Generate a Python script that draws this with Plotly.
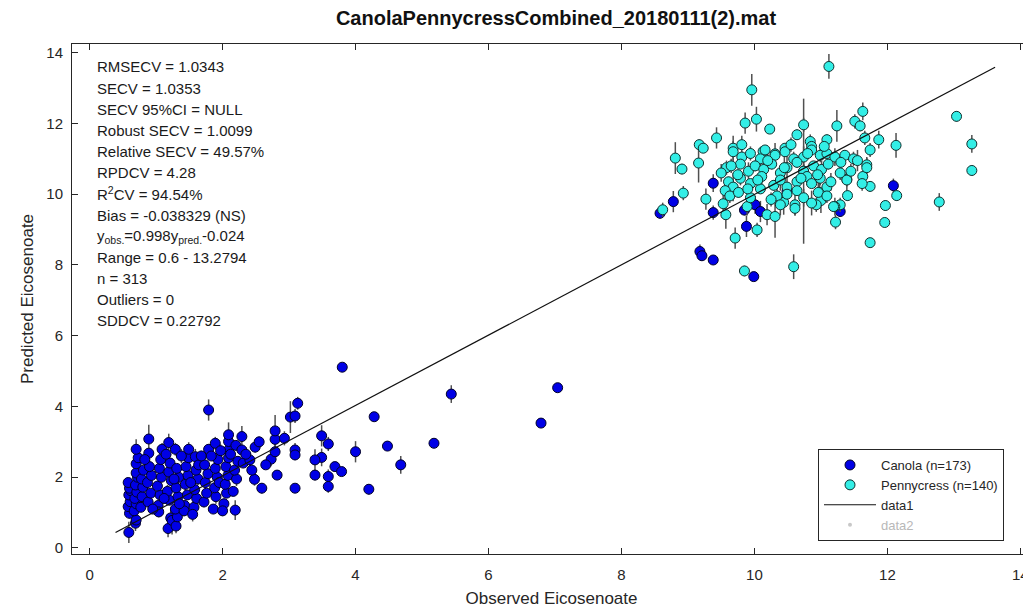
import plotly.graph_objects as go

# ---------------- data ----------------
canola_obs = [
    0.59, 0.60, 0.58, 0.61, 0.59, 0.62, 0.60, 0.58,
    0.69, 0.70, 0.67, 0.70, 0.68, 0.71, 0.69, 0.72, 0.70, 0.70, 0.73, 0.70,
    0.77, 0.79, 0.80, 0.78, 0.81,
    0.88, 0.92, 0.87, 0.93, 0.90, 0.89, 0.89,
    1.03, 1.06, 1.02, 1.08, 1.05, 1.07, 1.09, 1.04,
    1.18, 1.22, 1.20, 1.17, 1.23, 1.19, 1.21, 1.19, 1.24,
    1.30, 1.32, 1.29, 1.33, 1.30, 1.34, 1.31, 1.29,
    1.43, 1.47, 1.44, 1.48, 1.45, 1.49, 1.49, 1.42,
    1.57, 1.61, 1.58, 1.63, 1.60, 1.59, 1.64,
    1.72, 1.76, 1.74, 1.78, 1.73, 1.79, 1.79,
    1.86, 1.90, 1.88, 1.92, 1.89, 1.93, 1.89, 1.95,
    2.02, 2.06, 2.04, 2.08, 2.05, 2.09, 2.09, 2.09, 2.09,
    2.19, 2.16, 2.21, 2.18, 2.23, 2.20,
    2.29, 2.29, 2.31,
    2.41, 2.49, 2.48, 2.44,
    2.59,
    2.73, 2.79, 2.79, 2.79, 2.93, 2.82,
    3.02, 3.09, 3.13, 3.09, 3.09, 3.09,
    3.49, 3.59, 3.49, 3.39, 3.39, 3.59, 3.59, 3.69, 3.79, 3.80,
    4.00, 4.28, 4.20, 4.48, 4.68, 5.18, 5.44, 6.79, 7.04,
    8.58, 8.78, 9.38, 9.38, 9.18, 9.21, 9.38, 9.88, 9.99, 10.01, 10.09, 10.49, 11.29, 12.09, 9.85,
    0.95, 1.12, 1.27, 1.38, 1.52, 1.68, 1.83, 1.97, 2.12, 2.35, 2.55, 2.65, 1.35, 1.55, 0.83, 1.15, 2.00,
]
canola_pred = [
    0.44, 0.98, 1.17, 1.31, 1.50, 1.62, 1.69, 1.85,
    0.70, 0.79, 1.05, 1.25, 1.40, 1.58, 1.78, 2.00, 2.12, 2.38, 2.55, 2.79,
    1.15, 1.45, 1.72, 1.95, 2.20,
    1.30, 1.55, 1.85, 2.05, 2.30, 2.68, 3.08,
    1.20, 1.50, 1.75, 2.00, 2.25, 2.50, 2.79, 1.02,
    0.55, 0.85, 1.35, 1.60, 1.90, 2.15, 2.40, 2.98, 0.78,
    0.62, 0.88, 1.10, 1.45, 1.70, 2.00, 2.25, 2.79,
    1.20, 1.50, 1.80, 2.05, 2.30, 2.55, 2.79, 1.05,
    1.15, 1.40, 1.65, 1.95, 2.20, 2.58, 2.35,
    1.30, 1.55, 1.85, 2.10, 2.35, 2.79, 3.90,
    1.10, 1.45, 1.70, 2.00, 2.25, 2.50, 2.96, 1.85,
    1.25, 1.55, 1.80, 2.05, 2.30, 2.55, 2.77, 3.01, 3.20,
    1.07, 1.60, 1.95, 2.20, 2.45, 2.90,
    2.77, 3.15, 2.40,
    2.49, 2.85, 1.94, 2.20,
    1.69,
    2.51, 2.72, 3.07, 3.31, 3.10, 2.06,
    3.70, 3.73, 4.09, 2.77, 2.63, 1.69,
    3.17, 2.94, 2.56, 2.49, 2.06, 2.02, 1.74, 2.30, 2.16, 5.11,
    2.72, 3.71, 1.66, 2.88, 2.35, 2.96, 4.35, 3.53, 4.53,
    9.46, 9.79, 10.31, 9.48, 8.38, 8.26, 8.14, 9.09, 7.67, 9.70, 9.51, 10.08, 9.51, 10.24, 9.55,
    1.10, 1.40, 1.95, 2.60, 1.85, 2.60, 2.60, 2.75, 2.65, 2.65, 3.00, 2.35, 1.25, 0.95, 2.50, 2.65, 1.05,
]
canola_sd = [
    0.30, 0.15, 0.20, 0.10, 0.25, 0.12, 0.18, 0.10,
    0.22, 0.10, 0.15, 0.30, 0.12, 0.20, 0.10, 0.25, 0.15, 0.20, 0.12, 0.28,
    0.10, 0.18, 0.12, 0.22, 0.10,
    0.15, 0.10, 0.20, 0.12, 0.18, 0.15, 0.40,
    0.12, 0.20, 0.10, 0.15, 0.22, 0.10, 0.18, 0.15,
    0.25, 0.30, 0.12, 0.18, 0.10, 0.20, 0.15, 0.25, 0.40,
    0.20, 0.15, 0.12, 0.20, 0.10, 0.22, 0.12, 0.18,
    0.15, 0.10, 0.20, 0.12, 0.18, 0.10, 0.20, 0.15,
    0.12, 0.20, 0.10, 0.18, 0.12, 0.22, 0.10,
    0.15, 0.10, 0.20, 0.12, 0.18, 0.15, 0.30,
    0.12, 0.20, 0.10, 0.15, 0.22, 0.10, 0.18, 0.12,
    0.15, 0.10, 0.20, 0.12, 0.18, 0.10, 0.20, 0.15, 0.35,
    0.28, 0.12, 0.20, 0.10, 0.15, 0.12,
    0.15, 0.30, 0.12,
    0.20, 0.15, 0.18, 0.10,
    0.15,
    0.20, 0.15, 0.25, 0.45, 0.20, 0.12,
    0.45, 0.20, 0.18, 0.20, 0.15, 0.12,
    0.30, 0.20, 0.25, 0.30, 0.15, 0.20, 0.18, 0.10, 0.12, 0.10,
    0.30, 0.10, 0.15, 0.10, 0.25, 0.05, 0.25, 0.05, 0.08,
    0.15, 0.30, 0.25, 0.20, 0.20, 0.15, 0.10, 0.30, 0.10, 0.25, 0.30, 0.20, 0.15, 0.20, 0.15,
    0.12, 0.15, 0.10, 0.20, 0.12, 0.15, 0.10, 0.18, 0.12, 0.20, 0.15, 0.10, 0.12, 0.20, 0.15, 0.12, 0.15,
]

penny_obs = [
    11.12, 9.96, 10.03, 9.86, 10.23, 9.43, 9.17, 9.23, 8.81, 8.91, 9.16, 9.68, 9.81, 10.74, 10.64, 10.84,
    10.86, 10.46, 10.13, 10.31, 11.09, 11.24, 11.51, 11.59, 11.63, 11.66, 11.87, 11.74, 12.13, 13.04, 13.27,
    13.27, 12.78, 12.14, 11.97, 11.96, 11.74, 11.74, 11.69, 11.63, 11.39, 11.40, 11.29, 11.21, 11.22, 10.98,
    11.00, 10.93, 10.59, 9.85, 9.71, 10.04, 10.19, 10.31, 10.44, 10.61, 10.74, 9.89, 9.57, 9.53, 9.27, 8.93, 8.62,
    9.68, 9.81, 9.94, 10.09, 10.16, 10.31, 10.46, 10.59, 10.74, 10.86, 10.99, 11.09, 11.21, 11.36, 11.49,
    9.58, 9.79, 9.91, 10.01, 10.14, 10.26, 10.39, 10.49, 10.64, 10.74, 10.89, 11.01, 11.11, 11.29, 11.69,
    9.61, 9.68, 9.79, 9.94, 10.11, 10.29, 10.39, 10.49, 10.64, 10.79, 10.86, 10.99, 11.09, 11.39, 11.62,
    9.56, 9.63, 9.76, 9.94, 10.09, 10.34, 10.49, 10.64, 10.74, 10.96, 11.09,
    10.39, 10.61, 10.86, 11.19,
    9.50, 9.75, 10.20, 10.45, 10.70, 10.95, 11.15, 11.30, 11.45, 10.05, 10.55, 10.80, 9.90, 10.25, 11.05, 11.55, 9.65,
]
penny_pred = [
    13.61, 12.95, 12.12, 12.01, 11.84, 11.59, 11.40, 11.30, 11.02, 10.71, 10.88, 11.30, 11.40, 11.96, 11.68, 11.49,
    11.35, 11.30, 11.21, 11.14, 11.54, 11.93, 12.06, 11.93, 12.34, 11.59, 11.54, 11.25, 11.38, 12.20, 11.42,
    10.67, 9.78, 9.96, 9.68, 9.20, 8.63, 10.22, 10.83, 10.50, 10.42, 9.96, 9.70, 9.65, 9.21, 10.05,
    9.82, 9.70, 7.95, 7.83, 8.76, 8.99, 9.42, 9.37, 9.77, 9.70, 10.65, 9.65, 9.42, 9.73, 9.86, 10.03, 9.56,
    11.20, 11.05, 11.15, 11.00, 11.25, 11.10, 11.20, 11.00, 11.05, 11.25, 11.10, 11.15, 11.05, 11.10, 11.00,
    10.75, 10.85, 10.65, 10.80, 10.70, 10.85, 10.60, 10.75, 10.90, 10.65, 10.80, 10.70, 10.85, 10.60, 10.75,
    10.35, 10.20, 10.45, 10.30, 10.50, 10.25, 10.40, 10.20, 10.35, 10.50, 10.30, 10.45, 10.20, 10.40, 10.30,
    10.10, 9.95, 10.05, 9.90, 10.15, 9.95, 10.00, 10.10, 9.90, 10.05, 9.95,
    9.70, 9.60, 9.75, 9.65,
    10.60, 10.55, 10.95, 10.75, 10.45, 10.55, 10.35, 10.90, 10.65, 10.40, 11.40, 11.15, 10.15, 9.85, 11.35, 10.95, 10.80,
]
penny_sd = [
    0.35, 0.45, 0.35, 0.30, 0.10, 0.30, 0.15, 0.10, 0.45, 0.15, 0.55, 0.35, 0.25, 0.20, 0.15, 0.20,
    0.15, 0.10, 0.10, 0.12, 0.15, 0.45, 0.20, 0.15, 0.25, 0.20, 0.25, 0.20, 0.35, 0.15, 0.25,
    0.15, 0.25, 0.15, 0.15, 0.10, 0.10, 0.15, 0.20, 0.15, 0.20, 0.15, 0.20, 0.25, 0.20, 0.30,
    0.35, 0.20, 0.35, 0.15, 0.30, 0.20, 0.30, 0.60, 0.35, 0.30, 2.05, 0.25, 0.40, 0.35, 0.30, 0.20, 0.20,
    0.30, 0.15, 0.20, 0.25, 0.10, 0.35, 0.15, 0.20, 0.30, 0.15, 0.20, 0.10, 0.25, 0.15, 0.20,
    0.20, 0.10, 0.25, 0.15, 0.30, 0.15, 0.20, 0.35, 0.15, 0.20, 0.10, 0.25, 0.15, 0.20, 0.30,
    0.15, 0.40, 0.20, 0.10, 0.25, 0.15, 0.30, 0.20, 0.15, 0.25, 0.10, 0.20, 0.15, 0.30, 0.20,
    0.35, 0.20, 0.15, 0.25, 0.10, 0.30, 0.20, 0.15, 0.25, 0.40, 0.20,
    0.30, 0.20, 0.35, 0.15,
    0.25, 0.15, 0.20, 0.30, 0.15, 0.20, 0.25, 0.15, 0.20, 0.10, 0.20, 0.15, 0.25, 0.20, 0.15, 0.30, 0.20,
]

fit_x = [0.39, 13.62]
fit_y = [0.44, 13.59]

stats_lines = [
    "RMSECV = 1.0343",
    "SECV = 1.0353",
    "SECV 95%CI = NULL",
    "Robust SECV = 1.0099",
    "Relative SECV = 49.57%",
    "RPDCV = 4.28",
    "R<sup>2</sup>CV = 94.54%",
    "Bias = -0.038329 (NS)",
    "y<sub>obs.</sub>=0.998y<sub>pred.</sub>-0.024",
    "Range = 0.6 - 13.2794",
    "n = 313",
    "Outliers = 0",
    "SDDCV = 0.22792",
]

x_ticks = [0, 2, 4, 6, 8, 10, 12, 14]
y_ticks = [0, 2, 4, 6, 8, 10, 12, 14]

# ---------------- figure ----------------
# the page body has an 8px default margin; the figure is sized/offset to compensate
OFF = 8
W, H = 1031 - OFF, 611 - OFF
ML, MR, MT, MB = 72 - OFF, 0, 44 - OFF, 57
PLOT_BOTTOM = 554   # page pixels
PH = H - MT - MB
PW = W - ML - MR
FONT = "Liberation Sans, Arial, sans-serif"
AXC = "#262626"

fig = go.Figure()
fig.add_trace(go.Scatter(
    x=canola_obs, y=canola_pred, mode="markers", name="Canola (n=173)",
    marker=dict(size=10, color="#0000E6", line=dict(color="#000028", width=1)),
    error_y=dict(type="data", array=canola_sd, visible=True, color="#505050", thickness=1.5, width=0),
))
fig.add_trace(go.Scatter(
    x=penny_obs, y=penny_pred, mode="markers", name="Pennycress (n=140)",
    marker=dict(size=10, color="#33EEE6", line=dict(color="#10302e", width=1)),
    error_y=dict(type="data", array=penny_sd, visible=True, color="#505050", thickness=1.5, width=0),
))
fig.add_trace(go.Scatter(
    x=fit_x, y=fit_y, mode="lines", name="data1",
    line=dict(color="#111111", width=1.2),
))
fig.add_trace(go.Scatter(
    x=[None], y=[None], mode="markers", name="<span style='color:#b8b8b8'>data2</span>",
    marker=dict(size=4, color="#c8c8c8"),
))

annotations = []
for i, t in enumerate(stats_lines):
    py = 67 + 21.15 * i
    annotations.append(dict(
        text=t, xref="paper", yref="paper", x=(95 - 72) / PW, y=(PLOT_BOTTOM - py) / PH,
        xanchor="left", yanchor="middle", showarrow=False,
        font=dict(family=FONT, size=15, color="#1a1a1a"),
    ))

axis_common = dict(
    ticks="inside", ticklen=6, tickwidth=1, tickcolor=AXC,
    showline=True, linecolor=AXC, linewidth=1, mirror="allticks",
    showgrid=False, zeroline=False, automargin=False,
    tickfont=dict(family=FONT, size=15, color=AXC),
)

fig.update_layout(
    width=W, height=H,
    margin=dict(l=ML, r=MR, t=MT, b=MB, pad=0, autoexpand=False),
    paper_bgcolor="white", plot_bgcolor="white",
    font=dict(family=FONT, color=AXC),
    title=dict(
        text="<b>CanolaPennycressCombined_20180111(2).mat</b>",
        x=(556 - OFF) / W, xref="container", xanchor="center",
        y=1 - (18 - OFF) / H, yref="container", yanchor="middle",
        font=dict(family=FONT, size=20, color="#111111"),
    ),
    xaxis=dict(range=[-0.265, 14.16], tickvals=x_ticks, ticklabelstandoff=7,
               title=dict(text="Observed Eicosenoate", font=dict(family=FONT, size=17, color=AXC), standoff=10),
               **axis_common),
    yaxis=dict(range=[-0.17, 14.245], tickvals=y_ticks, ticklabelstandoff=5,
               title=dict(text="Predicted Eicosenoate", font=dict(family=FONT, size=17, color=AXC), standoff=8),
               **axis_common),
    legend=dict(
        x=(818 - 72) / PW, y=(PLOT_BOTTOM - 449) / PH, xanchor="left", yanchor="top",
        bgcolor="white", bordercolor=AXC, borderwidth=1,
        font=dict(family=FONT, size=13, color=AXC),
        itemwidth=52, tracegroupgap=0, entrywidth=135,
    ),
    annotations=annotations,
    showlegend=True,
)

fig.write_html("out.html")
